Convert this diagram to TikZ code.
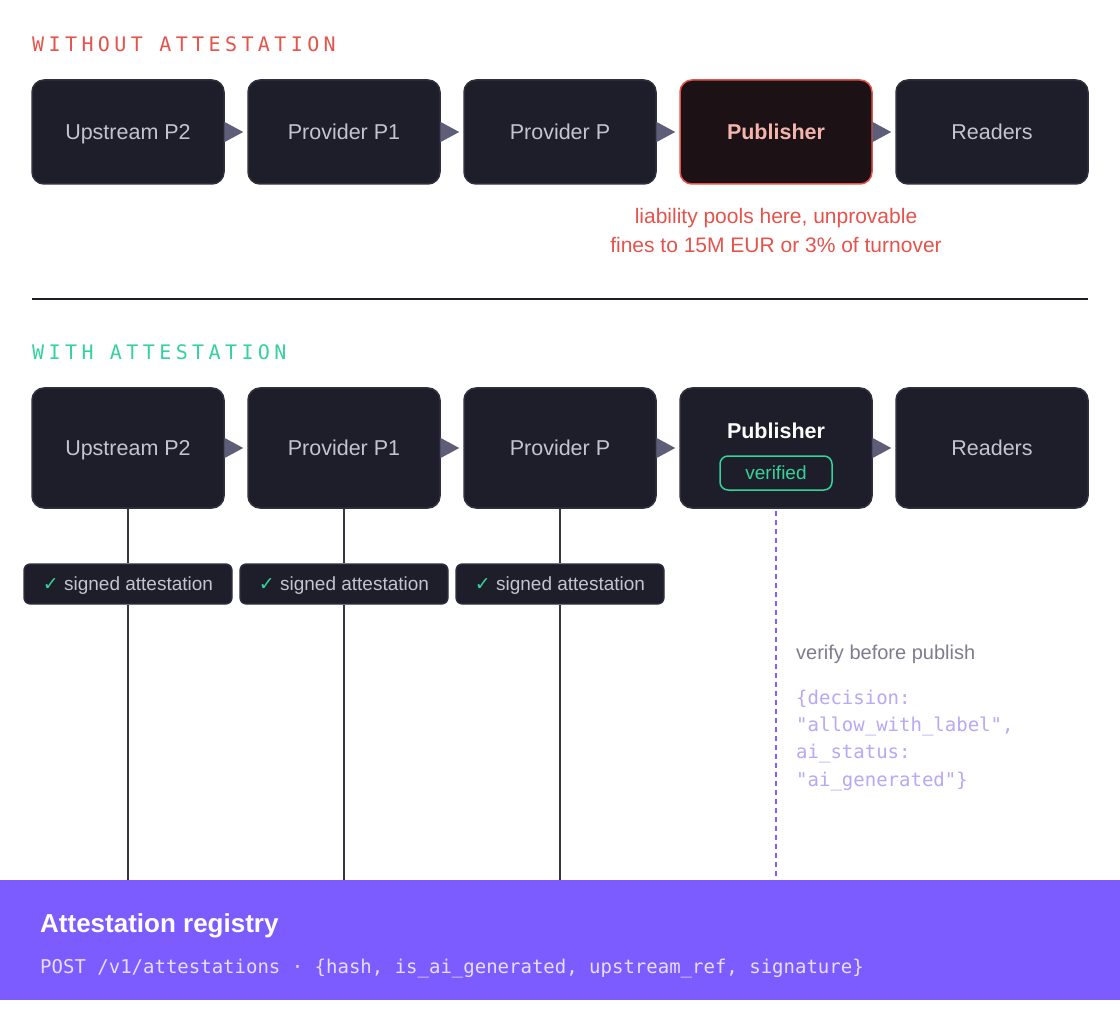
\documentclass[tikz,border=0pt]{standalone}
\usepackage{fontspec}
\setmainfont{Liberation Sans}
\newfontfamily\codefont{DejaVu Sans Mono}
\newfontfamily\capsfont[LetterSpace=22]{DejaVu Sans Mono}
\newfontfamily\symbolfont{DejaVu Sans}
\usepackage{xcolor}
\usepackage{tikz}
\usetikzlibrary{arrows.meta, positioning}

\definecolor{boxbg}{HTML}{1E1E2A}
\definecolor{boxedge}{HTML}{30303F}
\definecolor{boxtext}{HTML}{C4C4D0}
\definecolor{flowgrey}{HTML}{5E5E78}
\definecolor{warnred}{HTML}{E5534B}
\definecolor{warnbg}{HTML}{1C1216}
\definecolor{warntext}{HTML}{F3B5AC}
\definecolor{okgreen}{HTML}{34D399}
\definecolor{wiregrey}{HTML}{34343F}
\definecolor{probeviolet}{HTML}{7B61FF}
\definecolor{codeviolet}{HTML}{B8A8F6}
\definecolor{hintgrey}{HTML}{7D7D8E}
\definecolor{regviolet}{HTML}{7C5CFF}
\definecolor{reglight}{HTML}{E6DEFF}

\newcommand{\fsz}[1]{\fontsize{#1}{#1}\selectfont}

\begin{document}
\begin{tikzpicture}[x=1pt, y=-1pt,
    stage/.style={draw=boxedge, fill=boxbg, line width=1.5pt, rounded corners=12pt,
      minimum width=192pt, minimum height=104pt, inner sep=0pt,
      text height=15.5pt, text depth=0pt, text=boxtext, font=\fsz{21.5}},
    tall/.style={stage, minimum height=120pt},
    flow/.style={-{Triangle[length=19pt, width=20pt]}, draw=flowgrey, line width=2pt, shorten >=4pt},
    badge/.style={draw=okgreen, fill=boxbg, line width=1.5pt, rounded corners=8pt,
      minimum width=112pt, minimum height=34pt, inner sep=0pt, text=okgreen, font=\fsz{19}},
    signed/.style={draw=boxedge, fill=boxbg, line width=1.2pt, rounded corners=6pt,
      minimum width=208pt, minimum height=40pt, inner sep=0pt,
      text height=13.6pt, text depth=0pt, text=boxtext, font=\fsz{19}},
    wire/.style={draw=wiregrey, line width=2pt},
    probe/.style={draw=probeviolet, line width=2pt, dash pattern=on 5pt off 4pt},
    heading/.style={anchor=base west, inner sep=0pt, font=\capsfont\fsz{20}},
    note/.style={anchor=base, inner sep=0pt, text=warnred, font=\fsz{21}},
    code/.style={anchor=base west, inner sep=0pt, text=codeviolet, font=\codefont\fsz{19}},
  ]
    \path[fill=white, use as bounding box] (0,0) rectangle (1120,1024);

    % without attestation
    \node[heading, text=warnred] (headno) at (32,52) {WITHOUT ATTESTATION};
    \node[stage] (upa) at (128,132) {Upstream P2};
    \node[stage] (pra) at (344,132) {Provider P1};
    \node[stage] (pa) at (560,132) {Provider P};
    \node[stage, draw=warnred, fill=warnbg, text=warntext, font=\bfseries\fsz{21.5}] (puba) at (776,132) {Publisher};
    \node[stage] (reada) at (992,132) {Readers};

    \draw[flow] (upa) -- (pra);
    \draw[flow] (pra) -- (pa);
    \draw[flow] (pa) -- (puba);
    \draw[flow] (puba) -- (reada);

    \node[note] (warn1) at (776,224) {liability pools here, unprovable};
    \node[note] (warn2) at (776,253) {fines to 15M EUR or 3\% of turnover};

    \draw[draw=boxbg, line width=2pt] (32,299) -- (1088,299);

    % with attestation
    \node[heading, text=okgreen] (headyes) at (32,360) {WITH ATTESTATION};
    \node[tall] (upb) at (128,448) {Upstream P2};
    \node[tall] (prb) at (344,448) {Provider P1};
    \node[tall] (pb) at (560,448) {Provider P};
    \node[tall] (pubb) at (776,448) {};
    \node[tall] (readb) at (992,448) {Readers};
    \node[inner sep=0pt, text=white!93!boxtext, font=\bfseries\fsz{21.5}] (pubname) at (776,431) {Publisher};
    \node[badge] (okbadge) at (776,473) {verified};

    \draw[flow] (upb) -- (prb);
    \draw[flow] (prb) -- (pb);
    \draw[flow] (pb) -- (pubb);
    \draw[flow] (pubb) -- (readb);

    \node[regviolet, fill=regviolet, minimum width=1120pt, minimum height=120pt, inner sep=0pt] (reg) at (560,940) {};
    \node[anchor=base west, inner sep=0pt, text=white, font=\bfseries\fsz{26}] (regname) at (40,932) {Attestation registry};
    \node[anchor=base west, inner sep=0pt, text=reglight, font=\codefont\fsz{19}] (regapi) at (40,973)
      {POST /v1/attestations · \{hash, is\_ai\_generated, upstream\_ref, signature\}};

    \node[signed] (siga) at (128,584) {{\symbolfont\textcolor{okgreen}{✓}} signed attestation};
    \node[signed] (sigb) at (344,584) {{\symbolfont\textcolor{okgreen}{✓}} signed attestation};
    \node[signed] (sigc) at (560,584) {{\symbolfont\textcolor{okgreen}{✓}} signed attestation};

    \draw[wire] (upb) -- (siga);
    \draw[wire] (siga.south) -- (siga.south |- reg.north);
    \draw[wire] (prb) -- (sigb);
    \draw[wire] (sigb.south) -- (sigb.south |- reg.north);
    \draw[wire] (pb) -- (sigc);
    \draw[wire] (sigc.south) -- (sigc.south |- reg.north);

    \draw[probe] ([yshift=-2pt]pubb.south) -- (pubb.south |- reg.north);
    \node[anchor=base west, inner sep=0pt, text=hintgrey, font=\fsz{20}] (hint) at (796,659) {verify before publish};
    \node[code] (code1) at (796,704) {\{decision:};
    \node[code] (code2) at (796,731) {"allow\_with\_label",};
    \node[code] (code3) at (796,758) {ai\_status:};
    \node[code] (code4) at (796,786) {"ai\_generated"\}};
\end{tikzpicture}
\end{document}
